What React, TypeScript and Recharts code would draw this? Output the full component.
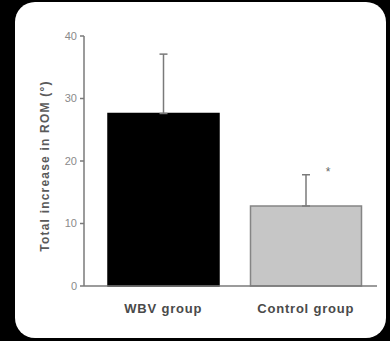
import React from "react";
import {
  BarChart,
  Bar,
  XAxis,
  YAxis,
  Cell,
  ErrorBar,
  LabelList,
  Label
} from "recharts";

// values
const groups = ["WBV group", "Control group"];
const means = [27.6, 12.8];
const sdUp = [9.5, 5.0];
const marks = ["", "*"];
const yTicks = [0, 10, 20, 30, 40];

const fills = ["#000000", "#c6c6c6"];
const strokes = ["#000000", "#858585"];

const data = groups.map((g, i) => ({
  group: g,
  mean: means[i],
  err: [0, sdUp[i]],
  mark: marks[i]
}));

const Star = (props: any) => {
  const { x, y, width, value } = props;
  if (!value) return null;
  return (
    <text
      x={x + width / 2 + 22}
      y={y - 30}
      textAnchor="middle"
      fontSize={12}
      fill="#666"
      fontFamily="Liberation Sans, Arial, sans-serif"
    >
      {value}
    </text>
  );
};

const YTitle = () => (
  <text
    transform="translate(45,166) rotate(-90)"
    textAnchor="middle"
    dominantBaseline="central"
    fontSize={12}
    fontWeight="bold"
    letterSpacing={1.2}
    fill="#5a5a5a"
    fontFamily="Liberation Sans, Arial, sans-serif"
  >
    Total increase in ROM (°)
  </text>
);

const App: React.FC = () => {
  return (
    <div
      style={{
        position: "fixed",
        left: 0,
        top: 0,
        width: 390,
        height: 341,
        background: "#000"
      }}
    >
      <div
        style={{
          position: "absolute",
          left: 15,
          top: 2,
          width: 371,
          height: 336,
          borderRadius: 20,
          background: "#fff"
        }}
      />
      <div style={{ position: "absolute", left: 0, top: 0 }}>
        <BarChart
          width={390}
          height={341}
          data={data}
          margin={{ top: 36, right: 13, bottom: 25, left: 0 }}
        >
          <XAxis
            dataKey="group"
            height={30}
            padding={{ left: 8, right: 0 }}
            axisLine={{ stroke: "#7a7a7a", strokeWidth: 1.5 }}
            tickLine={false}
            tickMargin={12}
            tick={{
              fontSize: 13,
              fontWeight: "bold",
              fill: "#4a4a4a",
              letterSpacing: 0.8,
              fontFamily: "Liberation Sans, Arial, sans-serif"
            }}
          />
          <YAxis
            width={84}
            domain={[0, 40]}
            ticks={yTicks}
            interval={0}
            axisLine={{ stroke: "#7a7a7a", strokeWidth: 1.5 }}
            tickLine={{ stroke: "#7a7a7a", strokeWidth: 1.5 }}
            tickSize={4}
            tickMargin={3}
            tick={{
              fontSize: 11,
              fill: "#8a8a8a",
              fontFamily: "Liberation Sans, Arial, sans-serif"
            }}
          >
            <Label content={<YTitle />} />
          </YAxis>
          <Bar
            dataKey="mean"
            barSize={111}
            strokeWidth={1.5}
            isAnimationActive={false}
          >
            {data.map((d, i) => (
              <Cell key={d.group} fill={fills[i]} stroke={strokes[i]} />
            ))}
            <ErrorBar
              dataKey="err"
              width={4}
              stroke="#7a7a7a"
              strokeWidth={1.5}
              isAnimationActive={false}
            />
            <LabelList dataKey="mark" content={<Star />} />
          </Bar>
        </BarChart>
      </div>
    </div>
  );
};

export default App;
